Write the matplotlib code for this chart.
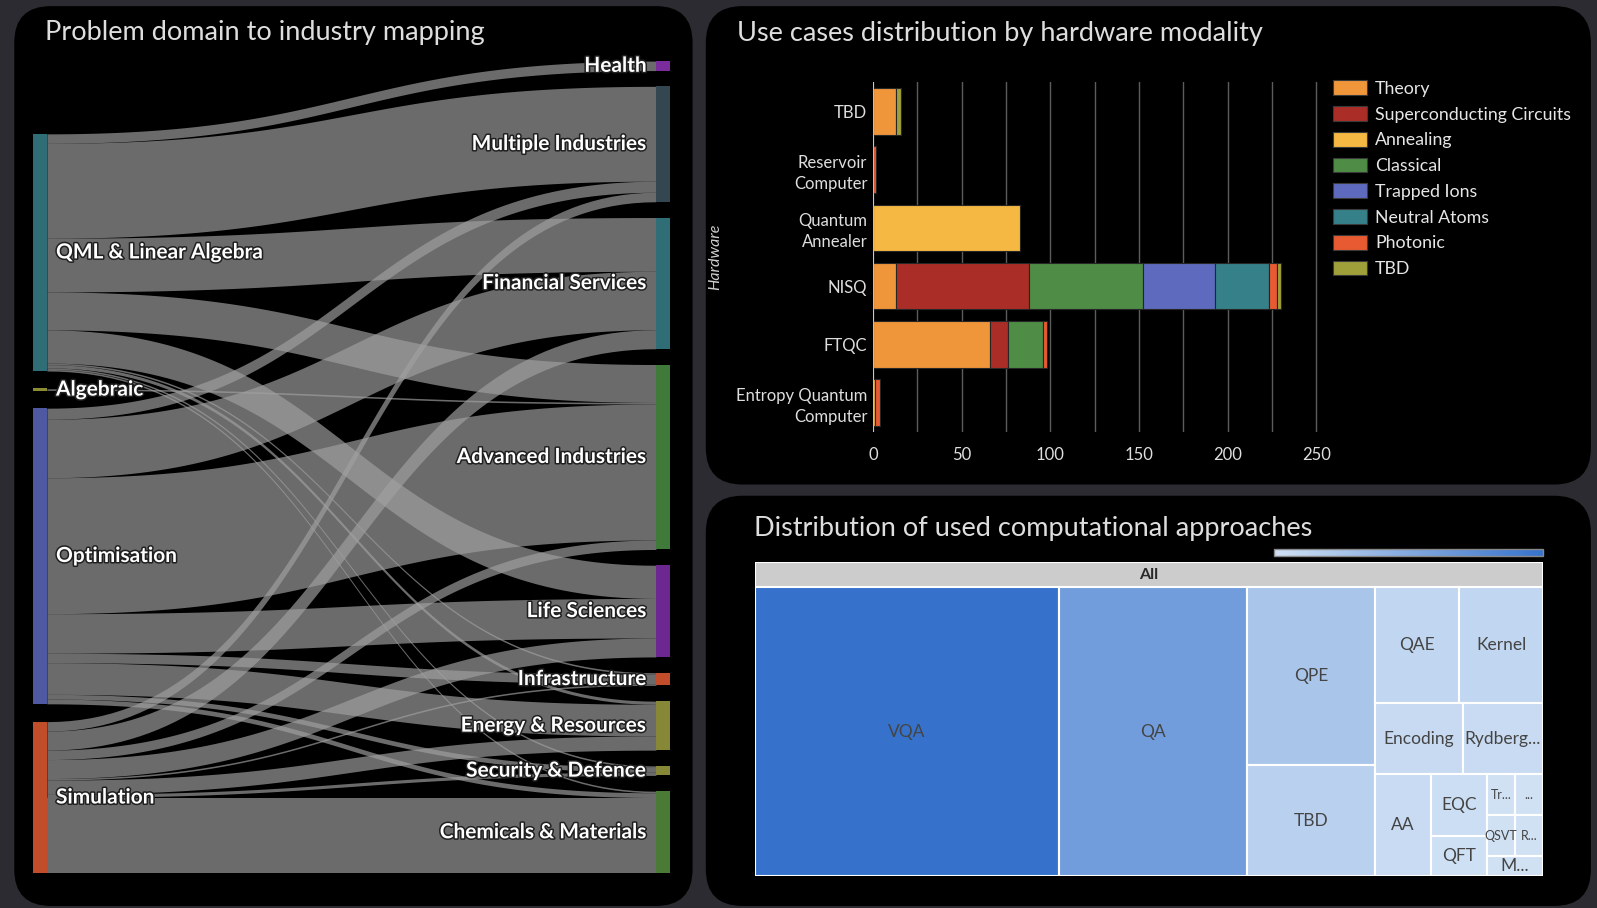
import numpy as np
import matplotlib
matplotlib.use("Agg")
import matplotlib.pyplot as plt
from matplotlib.patches import FancyBboxPatch, Rectangle, Patch
from matplotlib.colors import LinearSegmentedColormap, Normalize
import matplotlib.patheffects as pe
import matplotlib.colorbar as mcolorbar

plt.rcParams['font.family'] = ['Lato', 'DejaVu Sans']

# ---------------- Sankey data (problem domain -> industry) ----------------
domains = ["QML & Linear Algebra", "Algebraic", "Optimisation", "Simulation"]
domain_colors = ["#2f6d77", "#8c8c34", "#4f59a1", "#c14d2b"]
industries = ["Health", "Multiple Industries", "Financial Services", "Advanced Industries",
              "Life Sciences", "Infrastructure", "Energy & Resources", "Security & Defence",
              "Chemicals & Materials"]
industry_colors = ["#7a2c9c", "#34464f", "#2f6d77", "#3f7a3a", "#6c2790",
                   "#c14d2b", "#878738", "#878738", "#4a7a35"]
# flows from each domain to the industries (same order as industries)
flows_qml = [6, 60, 34, 24, 21, 1, 2, 1, 1]
flows_algebraic = [0, 0, 0, 1, 0, 0, 0, 0, 0]
flows_optimisation = [0, 7, 37, 86, 25, 6, 20, 3, 3]
flows_simulation = [0, 6, 12, 6, 12, 1, 9, 2, 48]

# ---------------- Bar chart data (hardware modality) ----------------
hardware = ["Entropy Quantum\nComputer", "FTQC", "NISQ", "Quantum\nAnnealer",
            "Reservoir\nComputer", "TBD"]
modalities = ["Theory", "Superconducting Circuits", "Annealing", "Classical",
              "Trapped Ions", "Neutral Atoms", "Photonic", "TBD"]
modality_colors = ["#f0963a", "#ab2d28", "#f5b842", "#4f8c45",
                   "#5e6abd", "#36808a", "#e85a32", "#a0a03a"]
theory = [0, 66, 13, 0, 0, 13]
superconducting = [0, 10, 75, 0, 0, 0]
annealing = [1, 0, 0, 83, 0, 0]
classical = [0, 20, 64, 0, 0, 0]
trapped_ions = [0, 0, 41, 0, 0, 0]
neutral_atoms = [0, 0, 30, 0, 0, 0]
photonic = [3, 2, 5, 0, 2, 0]
tbd = [0, 0, 2, 0, 0, 3]

# ---------------- Treemap data (computational approaches) ----------------
approaches = ["VQA", "QA", "QPE", "TBD", "QAE", "Kernel", "Encoding", "Rydberg...",
              "AA", "EQC", "QFT", "Tr...", "...", "QSVT", "R...", "M..."]
approach_counts = [154, 95, 40, 25, 17, 17, 11, 10, 10, 6, 4, 2, 2, 2, 2, 2]

# perceived layout grid of the dashboard
W0, H0 = 1568, 892
BG = "#2c2b31"


def frame(x0, y0, x1, y1):
    return [x0 / W0, 1 - y1 / H0, (x1 - x0) / W0, (y1 - y0) / H0]


def squarify(values, x0, y0, x1, y1, ratio=1.0):
    # d3-style squarified treemap
    rects = []
    n = len(values)
    value = float(sum(values))
    i0 = 0
    while i0 < n:
        dx, dy = x1 - x0, y1 - y0
        i1 = i0 + 1
        sum_v = values[i0]
        min_v = max_v = sum_v
        alpha = max(dy / dx, dx / dy) / (value * ratio)
        beta = sum_v * sum_v * alpha
        min_ratio = max(max_v / beta, beta / min_v)
        while i1 < n:
            v = values[i1]
            s = sum_v + v
            mn, mx = min(min_v, v), max(max_v, v)
            beta = s * s * alpha
            new_ratio = max(mx / beta, beta / mn)
            if new_ratio > min_ratio:
                break
            sum_v, min_v, max_v, min_ratio = s, mn, mx, new_ratio
            i1 += 1
        row = values[i0:i1]
        if dx < dy:
            h = dy * sum_v / value
            xx = x0
            for v in row:
                w = dx * v / sum_v
                rects.append((xx, y0, w, h))
                xx += w
            y0 += h
        else:
            w = dx * sum_v / value
            yy = y0
            for v in row:
                h = dy * v / sum_v
                rects.append((x0, yy, w, h))
                yy += h
            x0 += w
        value -= sum_v
        i0 = i1
    return rects


fig = plt.figure(figsize=(15.97, 9.08), dpi=100, facecolor=BG)
bg = fig.add_axes([0, 0, 1, 1])
bg.set_xlim(0, W0)
bg.set_ylim(H0, 0)
bg.axis("off")

# panels
for (x0, y0, x1, y1) in [(14, 6, 680, 890), (693, 6, 1562, 476), (693, 487, 1562, 890)]:
    bg.add_patch(FancyBboxPatch((x0, y0), x1 - x0, y1 - y0,
                                boxstyle="round,pad=0,rounding_size=36",
                                facecolor="black", edgecolor="none"))

title_kw = dict(color="#dedede", fontsize=19.5, fontweight="normal", va="center", ha="left")
bg.text(44, 32, "Problem domain to industry mapping", **title_kw)
bg.text(724, 33, "Use cases distribution by hardware modality", **title_kw)
bg.text(740, 519, "Distribution of used computational approaches", **title_kw)

# ---------------- Sankey ----------------
flows = np.array([flows_qml, flows_algebraic, flows_optimisation, flows_simulation], dtype=float)
src_tot = flows.sum(axis=1)
tgt_tot = flows.sum(axis=0)
s_top, s_bot, pad, pad_left = 60, 858, 15.5, 17.5
xl0, xl1, xr0, xr1 = 32, 46, 644, 658
ky = (s_bot - s_top - (len(industries) - 1) * pad) / flows.sum()

tgt_y = []
y = s_top
for v in tgt_tot:
    tgt_y.append(y)
    y += v * ky + pad
src_y = []
y = s_bot - (src_tot.sum() * ky + (len(domains) - 1) * pad_left)
for v in src_tot:
    src_y.append(y)
    y += v * ky + pad_left

src_off = list(src_y)
tgt_off = list(tgt_y)
t = np.linspace(0, 1, 80)
xm = (xl1 + xr0) / 2
bx = (1 - t) ** 3 * xl1 + 3 * (1 - t) ** 2 * t * xm + 3 * (1 - t) * t ** 2 * xm + t ** 3 * xr0
ease = 3 * (1 - t) * t ** 2 + t ** 3
link_start = {}
for i in range(len(domains)):
    for j in range(len(industries)):
        if flows[i, j] > 0:
            link_start[(i, j)] = src_off[i]
            src_off[i] += flows[i, j] * ky
for j in range(len(industries)):
    for i in range(len(domains)):
        if flows[i, j] > 0:
            h = flows[i, j] * ky
            ya0 = link_start[(i, j)]
            ya1 = tgt_off[j]
            top = ya0 + (ya1 - ya0) * ease
            bg.fill_between(bx, top, top + h, color="#a0a0a0", alpha=0.67, lw=0, zorder=2)
            tgt_off[j] += h

shadow = [pe.withStroke(linewidth=2.2, foreground="#202020")]
for i, name in enumerate(domains):
    h = max(src_tot[i] * ky, 2.5)
    yc = src_y[i] + src_tot[i] * ky / 2
    bg.add_patch(Rectangle((xl0, yc - h / 2), xl1 - xl0, h, color=domain_colors[i], lw=0, zorder=3))
    bg.text(55, yc, name, color="white", fontsize=15, fontweight="bold",
            ha="left", va="center", zorder=4, path_effects=shadow)
for j, name in enumerate(industries):
    h = tgt_tot[j] * ky
    bg.add_patch(Rectangle((xr0, tgt_y[j]), xr1 - xr0, h, color=industry_colors[j], lw=0, zorder=3))
    bg.text(635, tgt_y[j] + h / 2, name, color="white", fontsize=15, fontweight="bold",
            ha="right", va="center", zorder=4, path_effects=shadow)

# ---------------- Stacked bar chart ----------------
ax = fig.add_axes(frame(857, 81, 1296, 424))
ax.set_facecolor("none")
series = [theory, superconducting, annealing, classical, trapped_ions, neutral_atoms, photonic, tbd]
ypos = np.arange(len(hardware))
left = np.zeros(len(hardware))
for vals, col in zip(series, modality_colors):
    vals = np.array(vals, dtype=float)
    m = vals > 0
    ax.barh(ypos[m], vals[m], left=left[m], height=0.8, color=col,
            edgecolor="#262626", linewidth=0.8, zorder=3)
    left += vals
ax.set_xlim(0, 252)
ax.set_ylim(-0.5, len(hardware) - 0.5)
ax.set_xticks(np.arange(0, 251, 50))
ax.set_xticks(np.arange(25, 251, 50), minor=True)
ax.grid(True, which="both", axis="x", color="#5c5c5c", lw=1, zorder=0)
ax.axvline(0, color="#e0e0e0", lw=1.2, zorder=4)
ax.set_yticks(ypos)
ax.set_yticklabels(hardware, multialignment="right")
for lab in ax.get_yticklabels():
    lab.set_linespacing(1.35)
ax.tick_params(axis="both", which="both", length=0, colors="#dedede", labelsize=12)
ax.tick_params(axis="x", pad=11)
ax.tick_params(axis="y", pad=4)
for s in ax.spines.values():
    s.set_visible(False)
ax.set_ylabel("Hardware", color="#cfcfcf", fontsize=11.5, style="italic")
ax.yaxis.set_label_coords((709 - 857) / (1296 - 857), 0.5)

handles = [Patch(facecolor=c, edgecolor="#3a3a3a", lw=0.8) for c in modality_colors]
fig.legend(handles, modalities, loc="upper left", bbox_to_anchor=(1309 / W0, 1 - 79 / H0),
           frameon=False, fontsize=12.8, labelcolor="#e6e6e6", handlelength=1.9,
           handleheight=0.9, handletextpad=0.45, labelspacing=0.52,
           borderaxespad=0, borderpad=0)

# ---------------- Treemap ----------------
tw, th, hdr = 774, 309, 24
tm = fig.add_axes(frame(741, 552, 741 + tw, 552 + th))
tm.set_xlim(0, tw)
tm.set_ylim(th, 0)
tm.axis("off")
cmap = LinearSegmentedColormap.from_list("tm", ["#d0e1f4", "#3672cc"])
norm = Normalize(min(approach_counts), max(approach_counts))
tm.add_patch(Rectangle((0, 0), tw, th, facecolor="#cccccc", edgecolor="white", lw=1.5))
tm.text(tw / 2, hdr / 2 + 1, "All", ha="center", va="center", fontsize=11.5,
        fontweight="bold", color="#2a2a2a")
rects = squarify(approach_counts, 0, hdr + 1, tw, th)
for (x, y, w, h), lab, v in zip(rects, approaches, approach_counts):
    tm.add_patch(Rectangle((x, y), w, h, facecolor=cmap(norm(v)), edgecolor="white", lw=1.5))
    tm.text(x + w / 2, y + h / 2, lab, ha="center", va="center", fontsize=12.5 if w > 30 else 9,
            color="#444444", clip_on=True)

cb_ax = fig.add_axes(frame(1251, 539, 1515, 546))
cb = mcolorbar.ColorbarBase(cb_ax, cmap=cmap, norm=norm, orientation="horizontal")
cb.set_ticks([])
cb.outline.set_edgecolor("#888888")
cb.outline.set_linewidth(1)

fig.savefig("out.png", dpi=100, facecolor=BG)
